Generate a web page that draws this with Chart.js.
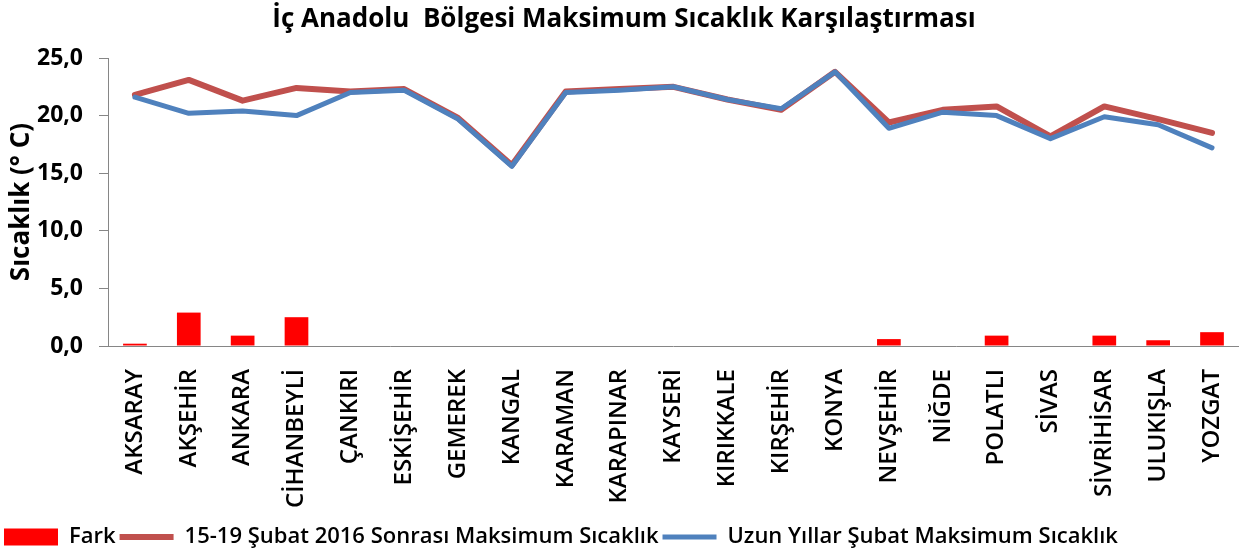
<!DOCTYPE html>
<html>
<head>
<meta charset="utf-8">
<script src="https://cdn.jsdelivr.net/npm/chart.js@4.4.1/dist/chart.umd.min.js"></script>
<style>
  html, body { margin: 0; padding: 0; background: #fff; }
  .wrap { width: 1256px; height: 553px; position: relative; }
</style>
</head>
<body>
<div class="wrap"><canvas id="Chart"></canvas></div>
<script>
const stations = ["AKSARAY", "AKŞEHİR", "ANKARA", "CİHANBEYLİ", "ÇANKIRI", "ESKİŞEHİR", "GEMEREK", "KANGAL", "KARAMAN", "KARAPINAR", "KAYSERİ", "KIRIKKALE", "KIRŞEHİR", "KONYA", "NEVŞEHİR", "NİĞDE", "POLATLI", "SİVAS", "SİVRİHİSAR", "ULUKIŞLA", "YOZGAT"];
// 15-19 Şubat 2016 sonrası
const maxSonrasi = [21.8, 23.1, 21.3, 22.4, 22.1, 22.3, 19.8, 15.7, 22.1, 22.3, 22.5, 21.4, 20.5, 23.8, 19.4, 20.5, 20.8, 18.2, 20.8, 19.7, 18.5];
// uzun yıllar şubat
const maxUzunYillar = [21.6, 20.2, 20.4, 20.0, 22.0, 22.2, 19.7, 15.6, 22.0, 22.2, 22.5, 21.4, 20.6, 23.8, 18.9, 20.3, 20.0, 18.0, 19.9, 19.2, 17.2];
const fark = [0.2, 2.9, 0.9, 2.5, 0, 0, 0, 0, 0, 0, 0, 0, 0, 0, 0.6, 0, 0.9, 0, 0.9, 0.5, 1.2];
const yTicks = [0, 5, 10, 15, 20, 25];

const axisGray = "#868686";
Chart.defaults.font.family = "'Open Sans', sans-serif";
Chart.defaults.color = "#000";

const ctx = document.getElementById("Chart").getContext("2d");
new Chart(ctx, {
  type: "bar",
  data: {
    labels: stations,
    datasets: [
      {
        label: "Fark",
        data: fark,
        backgroundColor: "#FF0000",
        borderWidth: 0,
        categoryPercentage: 1,
        barPercentage: 0.44,
        pointStyle: "rect",
        order: 3,
      },
      {
        type: "line",
        label: "15-19 Şubat 2016 Sonrası Maksimum Sıcaklık",
        data: maxSonrasi,
        borderColor: "#C0504D",
        backgroundColor: "#C0504D",
        borderWidth: 6,
        pointRadius: 0,
        tension: 0,
        borderJoinStyle: "round",
        borderCapStyle: "round",
        pointStyle: "line",
        order: 2,
      },
      {
        type: "line",
        label: "Uzun Yıllar Şubat Maksimum Sıcaklık",
        data: maxUzunYillar,
        borderColor: "#4F81BD",
        backgroundColor: "#4F81BD",
        borderWidth: 5,
        pointRadius: 0,
        tension: 0,
        borderJoinStyle: "round",
        borderCapStyle: "round",
        pointStyle: "line",
        order: 1,
      },
    ],
  },
  options: {
    responsive: true,
    maintainAspectRatio: false,
    animation: false,
    layout: { padding: { left: 0, right: 8, top: 0, bottom: -5 } },
    plugins: {
      title: {
        display: true,
        text: "İç Anadolu  Bölgesi Maksimum Sıcaklık Karşılaştırması",
        font: { size: 26, weight: "bold" },
        color: "#000",
        padding: { top: 4.4, bottom: 22.4 },
      },
      legend: {
        position: "bottom",
        align: "start",
        labels: {
          usePointStyle: true,
          pointStyleWidth: 54,
          boxHeight: 17,
          padding: 4,
          font: { size: 22, weight: "600" },
          color: "#000",
          sort: (a, b) => a.datasetIndex - b.datasetIndex,
        },
      },
      tooltip: { enabled: false },
    },
    scales: {
      x: {
        grid: { display: false },
        border: { color: axisGray, width: 1 },
        ticks: {
          maxRotation: 90,
          minRotation: 90,
          autoSkip: false,
          padding: 15,
          font: { size: 24, weight: "600" },
          color: "#000",
        },
        afterFit: (scale) => {
          scale.height = 176;
        },
      },
      y: {
        min: 0,
        max: 25,
        afterBuildTicks: (scale) => {
          scale.ticks = yTicks.map((v) => ({ value: v }));
        },
        grid: {
          drawOnChartArea: false,
          drawTicks: true,
          tickLength: 9,
          color: axisGray,
        },
        border: { color: axisGray, width: 1 },
        ticks: {
          padding: 16,
          font: { size: 23, weight: "bold" },
          color: "#000",
          callback: (value) => value.toFixed(1).replace(".", ","),
        },
        title: {
          display: true,
          text: "Sıcaklık (° C)",
          font: { size: 26, weight: "bold" },
          color: "#000",
          padding: { top: 6, bottom: 0 },
        },
        afterFit: (scale) => {
          scale.width = 108;
        },
      },
    },
  },
});
</script>
</body>
</html>
